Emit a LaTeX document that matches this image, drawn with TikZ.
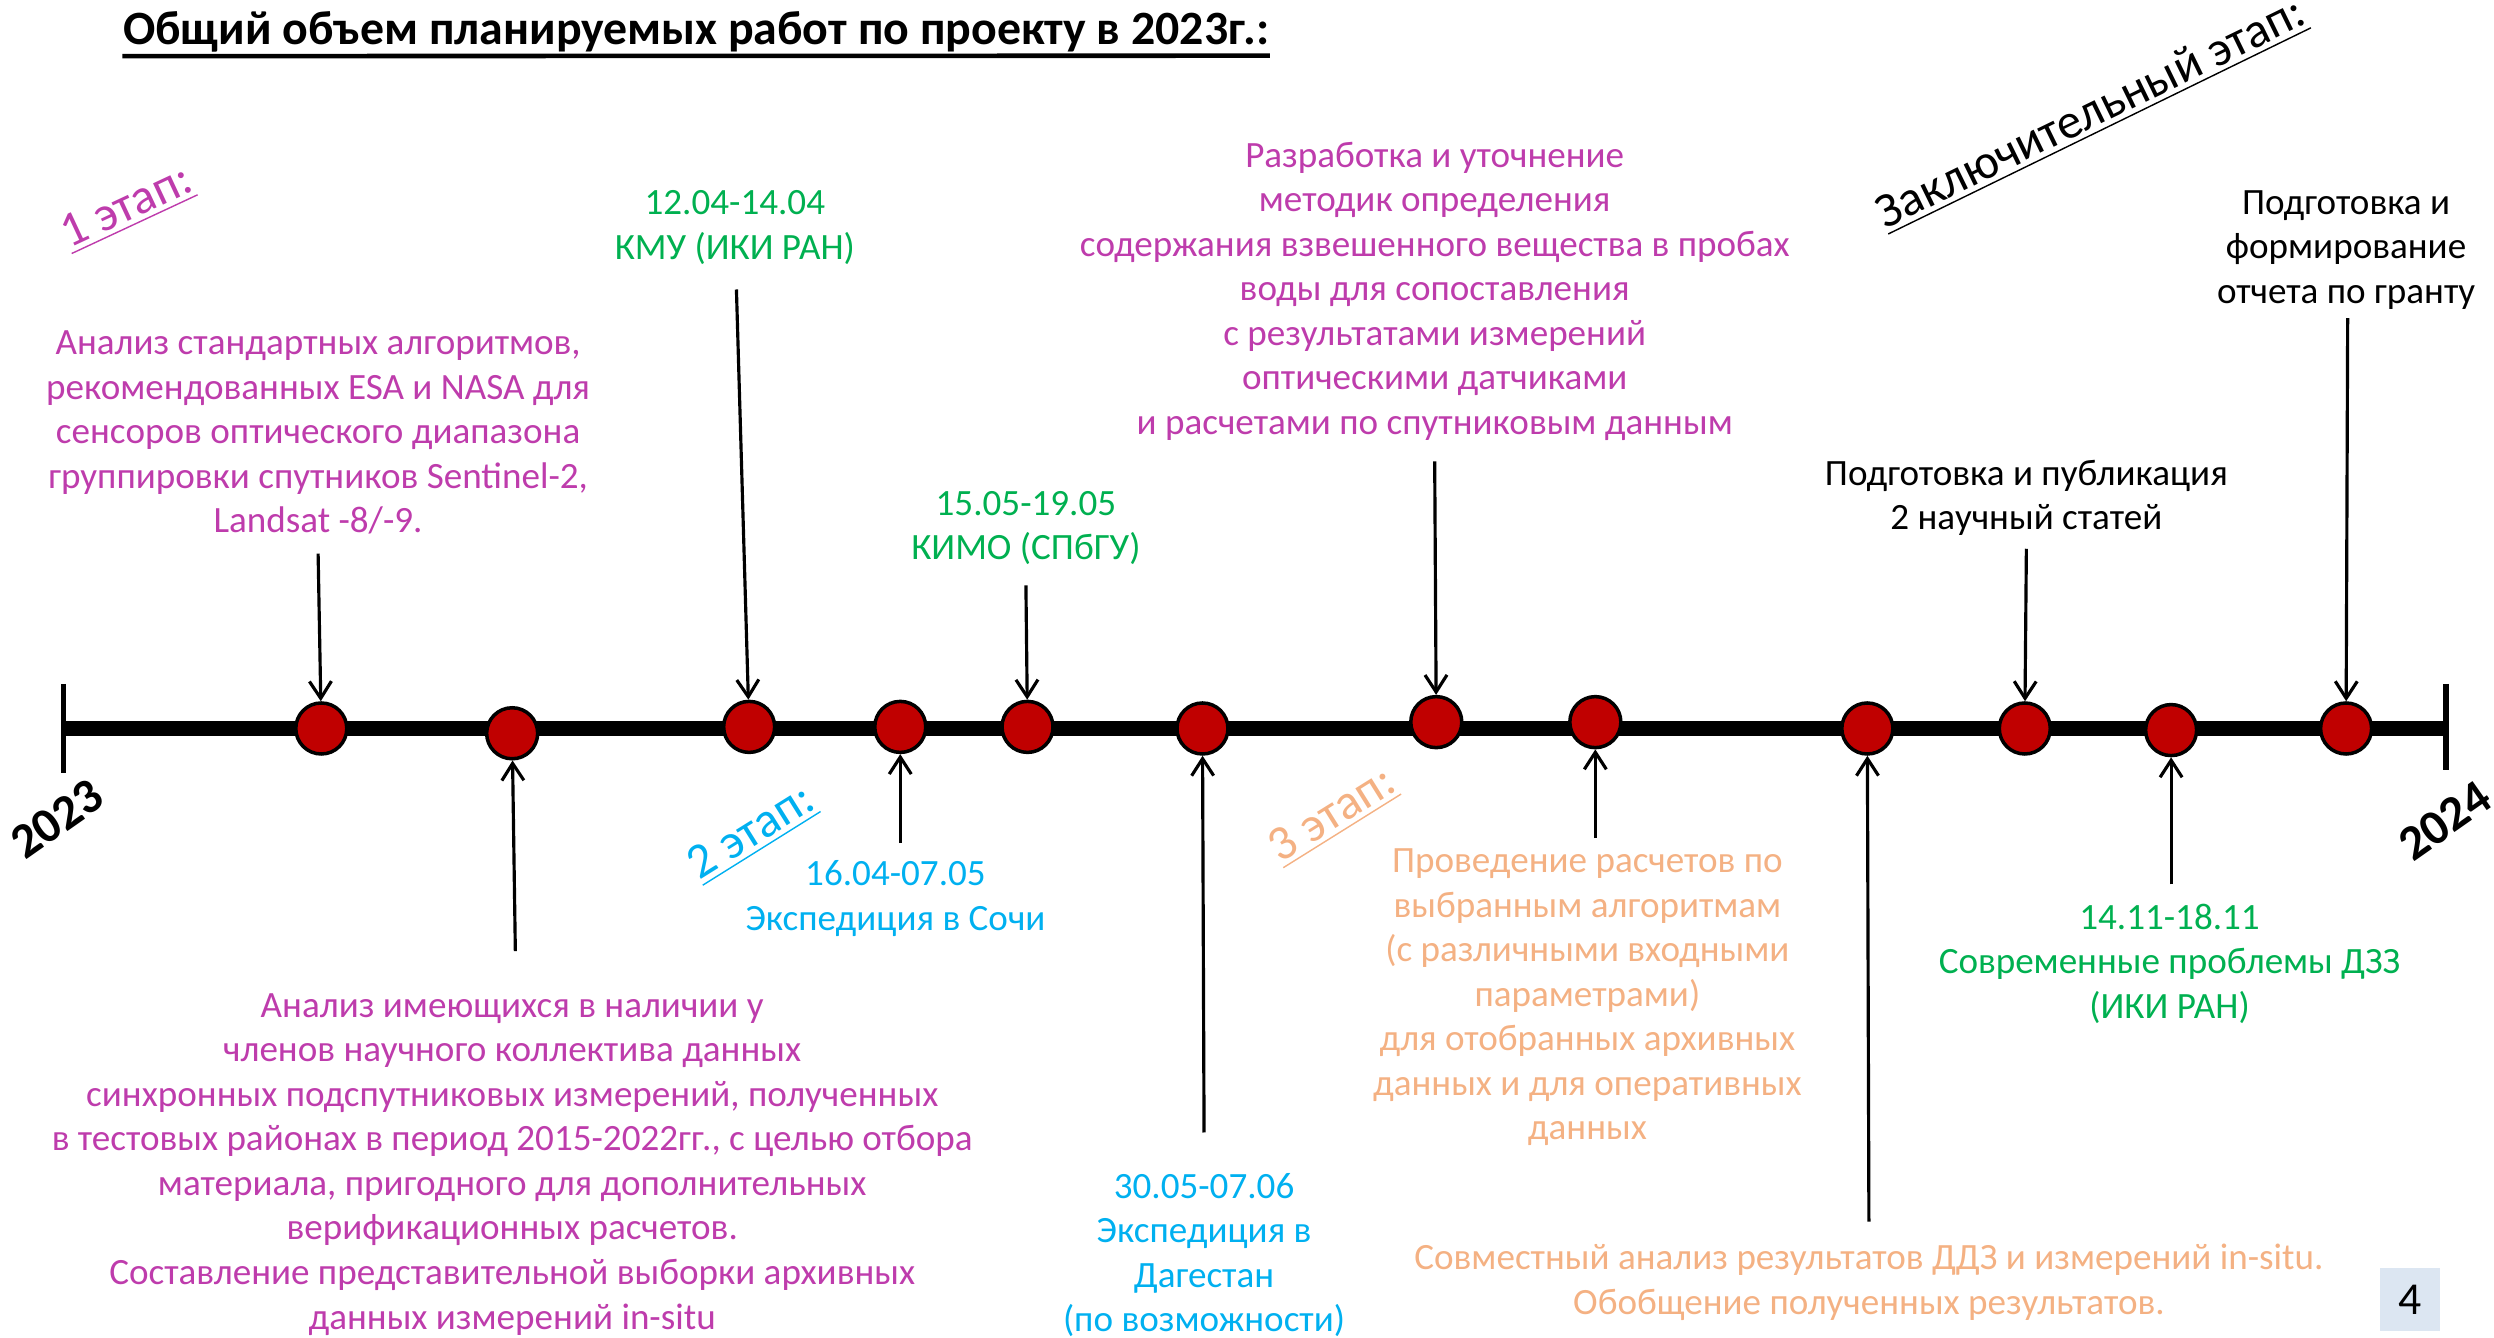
\documentclass[tikz,border=0pt]{standalone}
\usepackage{fontspec}
\setmainfont{Carlito}
\usepackage{tikz}
\usetikzlibrary{arrows.meta,positioning}

\definecolor{evred}{RGB}{192,0,0}
\definecolor{stpurple}{RGB}{190,60,172}
\definecolor{stgreen}{RGB}{0,176,80}
\definecolor{stcyan}{RGB}{0,176,240}
\definecolor{storange}{RGB}{244,177,131}
\definecolor{pagebox}{RGB}{220,230,242}

\tikzset{
  evt/.style={circle, draw=black, line width=1pt, fill=evred, minimum size=0.51cm, inner sep=0pt},
  lbl/.style={align=center, inner sep=0pt, font=\fontsize{10.55}{12.67}\selectfont},
  stage/.style={inner sep=0pt, font=\fontsize{14}{16}\selectfont},
  yr/.style={inner sep=0pt, rotate=35, font=\fontsize{14}{16}\selectfont\bfseries},
  arr/.style={-{Straight Barb[length=1.7mm,width=2.2mm]}, line width=0.9pt}
}

\begin{document}
\begin{tikzpicture}[x=0.015906cm, y=-0.015906cm]
\useasboundingbox (0,0) rectangle (1568,841);

% title
\node[anchor=base west, inner sep=0pt, font=\fontsize{13.6}{16}\selectfont\bfseries] (title) at (77,28)
  {Общий объем планируемых работ по проекту в 2023г.:};
\draw[line width=1.3pt] (title.south west) ++(0,2) -- (title.south east |- 0,35);

% timeline
\coordinate (start) at (40,458);
\coordinate (end) at (1538,458);
\draw[line width=4.5pt] (start) -- (end);
\draw[line width=1.6pt] (40,430) -- (40,486);
\draw[line width=1.6pt] (1538,430) -- (1538,484);
\node[yr] (y1) at (36,515) {2023};
\node[yr] (y2) at (1537,516) {2024};

% events
\node[evt] (e1) at (202,458) {};
\node[evt] (e2) at (322,461) {};
\node[evt] (e3) at (471,457) {};
\node[evt] (e4) at (566,457) {};
\node[evt] (e5) at (646,457) {};
\node[evt] (e6) at (756,458) {};
\node[evt] (e7) at (903,454) {};
\node[evt] (e8) at (1003,454) {};
\node[evt] (e9) at (1174,458) {};
\node[evt] (e10) at (1273,458) {};
\node[evt] (e11) at (1365,459) {};
\node[evt] (e12) at (1475,458) {};

% stages
\node[stage, rotate=25, text=stpurple] (st1) at (80,131) {\underline{1 этап:}};
\node[stage, rotate=32, text=stcyan] (st2) at (473,524) {\underline{2 этап:}};
\node[stage, rotate=32, text=storange] (st3) at (838,513) {\underline{3 этап:}};
\node[stage, rotate=26] (st4) at (1315,72) {\underline{Заключительный этап:}};

% texts above
\node[lbl, text=stpurple] (t1) at (200,272) {Анализ стандартных алгоритмов,\\рекомендованных ESA и NASA для\\сенсоров оптического диапазона\\группировки спутников Sentinel-2,\\Landsat -8/-9.};
\node[lbl, text=stgreen] (t3) at (462,143) {12.04-14.04\\КМУ (ИКИ РАН)};
\node[lbl, text=stgreen] (t5) at (645,332) {15.05-19.05\\КИМО (СПбГУ)};
\node[lbl, text=stpurple] (t7) at (902,183) {Разработка и уточнение\\методик определения\\содержания взвешенного вещества в пробах\\воды для сопоставления\\с результатами измерений\\оптическими датчиками\\и расчетами по спутниковым данным};
\node[lbl] (t10) at (1274,313) {Подготовка и публикация\\2 научный статей};
\node[lbl] (t12) at (1475,157) {Подготовка и\\формирование\\отчета по гранту};

% texts below
\node[lbl, text=stpurple] (t2) at (322,732) {Анализ имеющихся в наличии у\\членов научного коллектива данных\\синхронных подспутниковых измерений, полученных\\в тестовых районах в период 2015-2022гг., с целью отбора\\материала, пригодного для дополнительных\\верификационных расчетов.\\Составление представительной выборки архивных\\данных измерений in-situ};
\node[lbl, text=stcyan] (t4) at (563,565) {16.04-07.05\\Экспедиция в Сочи};
\node[lbl, text=stcyan] (t6) at (757,789) {30.05-07.06\\Экспедиция в\\Дагестан\\(по возможности)};
\node[lbl, text=storange] (t8) at (998,627) {Проведение расчетов по\\выбранным алгоритмам\\(с различными входными\\параметрами)\\для отобранных архивных\\данных и для оперативных\\данных};
\node[lbl, text=storange] (t9) at (1175,806) {Совместный анализ результатов ДДЗ и измерений in-situ.\\Обобщение полученных результатов.};
\node[lbl, text=stgreen] (t11) at (1364,606) {14.11-18.11\\Современные проблемы ДЗЗ\\(ИКИ РАН)};

% arrows
\coordinate (s1) at (200,348);
\coordinate (s2) at (324,598);
\coordinate (s3) at (463,182);
\coordinate (s4) at (566,530);
\coordinate (s5) at (645,368);
\coordinate (s6) at (757,712);
\coordinate (s7) at (902,290);
\coordinate (s8) at (1003,527);
\coordinate (s9) at (1175,768);
\coordinate (s10) at (1274,345);
\coordinate (s11) at (1365,556);
\coordinate (s12) at (1476,200);
\foreach \i in {1,...,12}
  \draw[arr] (s\i) -- (e\i);

% page number
\node[fill=pagebox, minimum width=38*0.015906cm, minimum height=40*0.015906cm, inner sep=0pt,
  font=\fontsize{13}{15}\selectfont] (pg) at (1515,817) {4};
\end{tikzpicture}
\end{document}
